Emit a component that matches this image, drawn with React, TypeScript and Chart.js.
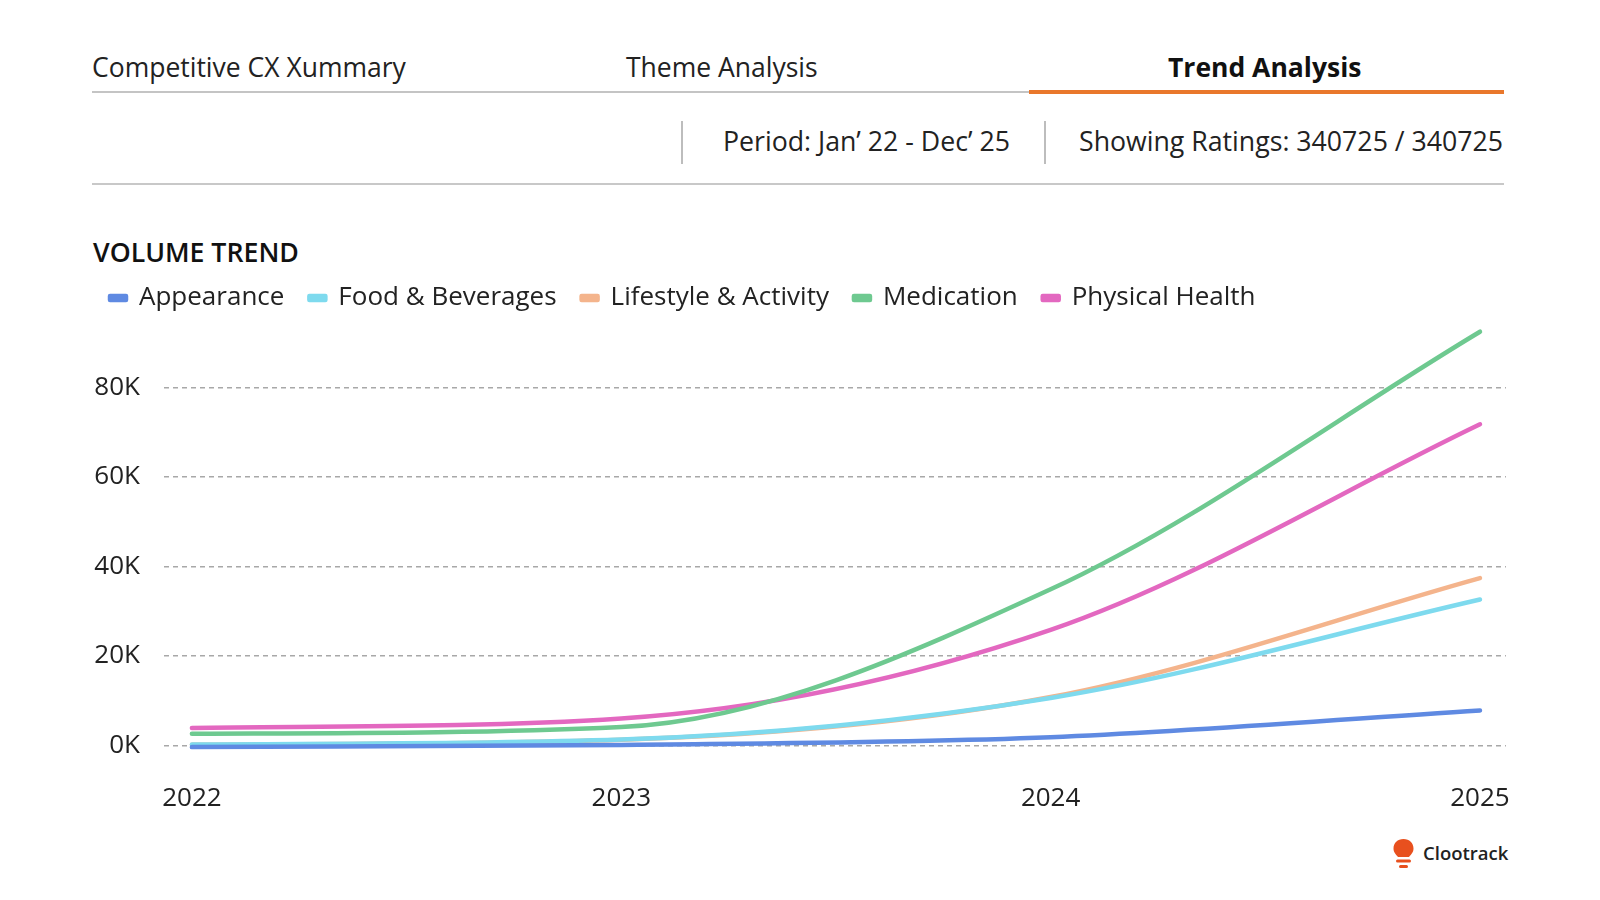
import React, { useEffect, useRef } from "react";
import { Chart, registerables } from "chart.js";

Chart.register(...registerables);

// ---- data ----
const years = [2022, 2023, 2024, 2025];
const appearance = [-400, 100, 1800, 7800];
const foodBeverages = [200, 1300, 10600, 32600];
const lifestyleActivity = [150, 1250, 10800, 37400];
const medication = [2600, 4100, 34900, 92500];
const physicalHealth = [3900, 6000, 25800, 71800];
const yTickValues = [0, 20000, 40000, 60000, 80000];
const seriesNames = ["Appearance", "Food & Beverages", "Lifestyle & Activity", "Medication", "Physical Health"];
const seriesColors = ["#5f8ae2", "#7edaee", "#f4b48c", "#6ec990", "#e368c0"];

const FONT = '"Open Sans", "Noto Sans", sans-serif';

function ChartCanvas() {
  const ref = useRef<HTMLCanvasElement | null>(null);
  useEffect(() => {
    let chart: Chart | null = null;
    let cancelled = false;
    const seriesValues = [appearance, foodBeverages, lifestyleActivity, medication, physicalHealth];
    const build = () => {
      if (cancelled || !ref.current) return;
      chart = new Chart(ref.current, {
        type: "line",
        data: {
          datasets: seriesNames.map((name, i) => ({
            label: name,
            data: years.map((yr, j) => ({ x: yr, y: seriesValues[i][j] })),
            borderColor: seriesColors[i],
            backgroundColor: seriesColors[i],
            fill: false,
          })),
        },
        options: {
          animation: false,
          responsive: false,
          maintainAspectRatio: false,
          layout: { padding: { left: 0, right: 15, top: 0, bottom: 0 } },
          elements: {
            point: { radius: 0, hoverRadius: 0 },
            line: {
              tension: 0.4,
              cubicInterpolationMode: "monotone",
              borderWidth: 4.5,
              borderCapStyle: "round",
              borderJoinStyle: "round",
            },
          },
          plugins: {
            legend: {
              display: true,
              position: "top",
              align: "start",
              labels: {
                boxWidth: 16,
                boxHeight: 4,
                padding: 25,
                color: "#222",
                font: { family: FONT, size: 26 },
              },
            },
            tooltip: { enabled: false },
          },
          scales: {
            x: {
              type: "linear",
              min: 2021.935,
              max: 2025.0604,
              afterBuildTicks: (s: any) => {
                s.ticks = years.map((v) => ({ value: v }));
              },
              afterFit: (s: any) => {
                s.height = 60;
              },
              grid: { display: false },
              border: { display: false },
              ticks: {
                padding: 15,
                color: "#222",
                maxRotation: 0,
                autoSkip: false,
                font: { family: FONT, size: 26 },
                callback: (v: any) => String(v),
              },
            },
            y: {
              min: -3280,
              max: 94900,
              afterBuildTicks: (s: any) => {
                s.ticks = yTickValues.map((v) => ({ value: v }));
              },
              afterFit: (s: any) => {
                s.width = 79;
              },
              grid: { color: "#a8a8a8", lineWidth: 1.5, drawTicks: false },
              border: { display: false, dash: [5, 4] },
              ticks: {
                padding: 24,
                color: "#222",
                font: { family: FONT, size: 26 },
                callback: (v: any) => `${Math.round(Number(v) / 1000)}K`,
              },
            },
          },
        } as any,
      });
    };
    if ((document as any).fonts && (document as any).fonts.load) {
      Promise.all([
        (document as any).fonts.load('26px "Open Sans"'),
        (document as any).fonts.load('bold 26px "Open Sans"'),
      ]).then(build, build);
    } else {
      build();
    }
    return () => {
      cancelled = true;
      if (chart) chart.destroy();
    };
  }, []);
  return (
    <canvas
      ref={ref}
      width={1440}
      height={560}
      style={{ position: "absolute", left: 85, top: 260, width: 1440, height: 560 }}
    />
  );
}

const txt = (extra: React.CSSProperties): React.CSSProperties => ({
  position: "absolute",
  fontFamily: FONT,
  color: "#222",
  whiteSpace: "nowrap",
  ...extra,
});

export default function App() {
  return (
    <div
      style={{
        position: "fixed",
        left: 0,
        top: 0,
        width: 1600,
        height: 900,
        background: "#ffffff",
        overflow: "hidden",
      }}
    >
      {/* tabs */}
      <div style={txt({ left: 92, top: 49, fontSize: 26.5, lineHeight: "36px" })}>Competitive CX Xummary</div>
      <div style={txt({ left: 626, top: 49, fontSize: 26.5, lineHeight: "36px" })}>Theme Analysis</div>
      <div style={txt({ left: 1168, top: 49, fontSize: 26.5, lineHeight: "36px", fontWeight: 700, color: "#111" })}>
        Trend Analysis
      </div>
      <div style={{ position: "absolute", left: 92, top: 91, width: 937, height: 2, background: "#c4c4c4" }} />
      <div style={{ position: "absolute", left: 1029, top: 89.5, width: 475, height: 4, background: "#e9772b" }} />

      {/* filter row */}
      <div style={{ position: "absolute", left: 681, top: 121, width: 2, height: 43, background: "#bdbdbd" }} />
      <div style={txt({ left: 723, top: 123, fontSize: 26.7, lineHeight: "36px" })}>Period: Jan’ 22 - Dec’ 25</div>
      <div style={{ position: "absolute", left: 1044, top: 121, width: 2, height: 43, background: "#bdbdbd" }} />
      <div style={txt({ left: 1079, top: 123, fontSize: 26.7, lineHeight: "36px" })}>
        Showing Ratings: 340725 / 340725
      </div>
      <div style={{ position: "absolute", left: 92, top: 182.5, width: 1412, height: 2, background: "#c8c8c8" }} />

      {/* title */}
      <div style={txt({ left: 93, top: 235, fontSize: 26.7, lineHeight: "34px", fontWeight: 600, color: "#111" })}>
        VOLUME TREND
      </div>

      <ChartCanvas />

      {/* logo */}
      <svg
        style={{ position: "absolute", left: 1392, top: 838 }}
        width={24}
        height={32}
        viewBox="0 0 24 32"
      >
        <path d="M11.5 1 C17.5 1 21.5 5 21.5 10.5 C21.5 14.5 19 16.5 17 19 L6 19 C4 16.5 1.5 14.5 1.5 10.5 C1.5 5 5.5 1 11.5 1 Z" fill="#e8501e" />
        <rect x={4} y={21.5} width={15} height={3} rx={1.5} fill="#e8501e" />
        <rect x={7} y={27} width={9} height={3} rx={1.5} fill="#e8501e" />
      </svg>
      <div style={txt({ left: 1423, top: 840, fontSize: 18.5, lineHeight: "26px", fontWeight: 600, color: "#222" })}>
        Clootrack
      </div>
    </div>
  );
}
